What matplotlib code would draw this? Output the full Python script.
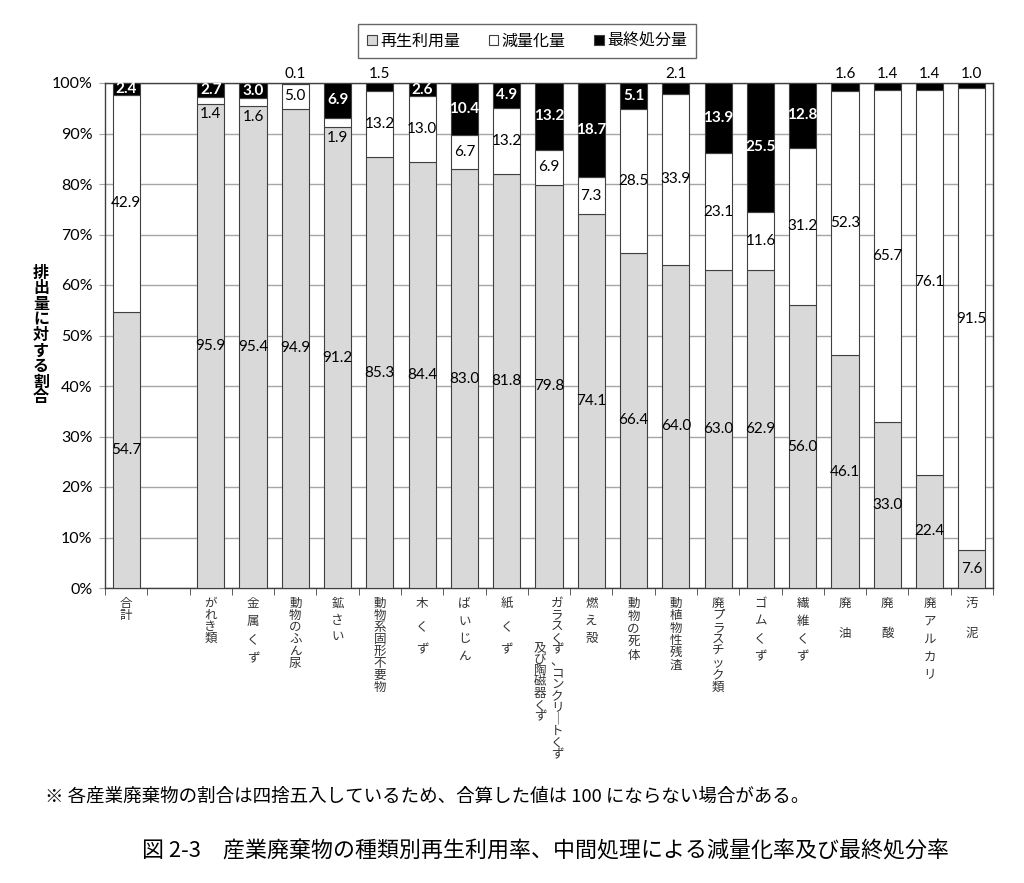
import matplotlib
matplotlib.use("Agg")
import matplotlib.pyplot as plt
from matplotlib.patches import Patch
import numpy as np

plt.rcParams['font.family'] = ['Noto Sans CJK JP', 'DejaVu Sans']

categories = ["合計", "", "がれき類", "金属くず", "動物のふん尿", "鉱さい", "動物系固形不要物",
              "木くず", "ばいじん", "紙くず", "ガラスくず、コンクリートくず及び陶磁器くず", "燃え殻",
              "動物の死体", "動植物性残渣", "廃プラスチック類", "ゴムくず", "繊維くず",
              "廃油", "廃酸", "廃アルカリ", "汚泥"]
recycled = [54.7, None, 95.9, 95.4, 94.9, 91.2, 85.3, 84.4, 83.0, 81.8, 79.8, 74.1,
            66.4, 64.0, 63.0, 62.9, 56.0, 46.1, 33.0, 22.4, 7.6]
reduced = [42.9, None, 1.4, 1.6, 5.0, 1.9, 13.2, 13.0, 6.7, 13.2, 6.9, 7.3,
           28.5, 33.9, 23.1, 11.6, 31.2, 52.3, 65.7, 76.1, 91.5]
final = [2.4, None, 2.7, 3.0, 0.1, 6.9, 1.5, 2.6, 10.4, 4.9, 13.2, 18.7,
         5.1, 2.1, 13.9, 25.5, 12.8, 1.6, 1.4, 1.4, 1.0]
series_names = ["再生利用量", "減量化量", "最終処分量"]
yticks = [0, 10, 20, 30, 40, 50, 60, 70, 80, 90, 100]

# vertical label layout: (columns of characters, char step px)
label_cols = {
    0: ([("合計", 0, 0)], 12.5),
    2: ([("がれき類", 0, 0)], 11.7),
    3: ([("金属くず", 0, 0)], 18.3),
    4: ([("動物のふん尿", 0, 0)], 11.9),
    5: ([("鉱さい", 0, 0)], 16.7),
    6: ([("動物系固形不要物", 0, 0)], 12.0),
    7: ([("木くず", 0, 0)], 23.0),
    8: ([("ばいじん", 0, 0)], 17.6),
    9: ([("紙くず", 0, 0)], 23.0),
    10: ([("ガラスくず、コンクリ｜トくず", 8, 0), ("及び陶磁器くず", -9, 44)], 11.6),
    11: ([("燃え殻", 0, 0)], 17.5),
    12: ([("動物の死体", 0, 0)], 13.0),
    13: ([("動植物性残渣", 0, 0)], 12.3),
    14: ([("廃プラスチック類", 0, 0)], 12.0),
    15: ([("ゴムくず", 0, 0)], 17.8),
    16: ([("繊維くず", 0, 0)], 17.8),
    17: ([("廃油", 0, 0)], 30.0),
    18: ([("廃酸", 0, 0)], 30.0),
    19: ([("廃アルカリ", 0, 0)], 17.9),
    20: ([("汚泥", 0, 0)], 30.0),
}

W, H = 1024, 883
fig = plt.figure(figsize=(W / 100, H / 100), dpi=100)
ax = fig.add_axes([105 / W, 1 - 588 / H, (993 - 105) / W, (588 - 83) / H])

n = len(categories)
x = np.arange(n)
gray = "#d9d9d9"
edge = "#404040"
bw = 0.64
numfont = "Lato"
nfs = 11

for i in range(n):
    if recycled[i] is None:
        continue
    vals = [recycled[i], reduced[i], final[i]]
    tot = sum(vals)
    h = [v / tot * 100 for v in vals]
    bottoms = [0, h[0], h[0] + h[1]]
    cols = [gray, "white", "black"]
    for k in range(3):
        ax.bar(x[i], h[k], bottom=bottoms[k], width=bw, color=cols[k],
               edgecolor=edge, linewidth=0.8, zorder=3)
    # labels
    ax.text(x[i], bottoms[0] + h[0] / 2, f"{vals[0]:.1f}", ha="center", va="center",
            fontsize=nfs, family=numfont, color="black", zorder=5)
    if vals[1] < 2.5:
        ax.text(x[i], bottoms[1] - 2.1, f"{vals[1]:.1f}", ha="center", va="center",
                fontsize=nfs, family=numfont, color="black", zorder=5)
    else:
        ax.text(x[i], bottoms[1] + h[1] / 2, f"{vals[1]:.1f}", ha="center", va="center",
                fontsize=nfs, family=numfont, color="black", zorder=5)
    if vals[2] < 2.35:
        ax.text(x[i], 101.8, f"{vals[2]:.1f}", ha="center", va="center",
                fontsize=nfs, family=numfont, color="black", zorder=5, clip_on=False)
    else:
        ax.text(x[i], bottoms[2] + h[2] / 2, f"{vals[2]:.1f}", ha="center", va="center",
                fontsize=nfs, family=numfont, color="white", fontweight="bold",
                zorder=5, clip_on=False)

ax.set_xlim(-0.5, n - 0.5)
ax.set_ylim(0, 100)
ax.set_yticks(yticks)
ax.set_yticklabels([f"{t}%" for t in yticks], family=numfont, fontsize=11.5)
ax.yaxis.grid(True, color="#a6a6a6", linewidth=1, zorder=0)
ax.set_axisbelow(True)
ax.set_xticks([])
ax.set_xticks(np.arange(-0.5, n, 1.0), minor=True)
ax.tick_params(axis="x", which="minor", length=5, color=edge, labelbottom=False)
ax.tick_params(axis="y", length=4, color="#a6a6a6", pad=5)
for s in ax.spines.values():
    s.set_color(edge)
    s.set_linewidth(1)

# vertical category labels
px2pt = 0.72
trans = ax.get_xaxis_transform()
for i, (cols, step) in label_cols.items():
    for text, dx, dy in cols:
        for k, ch in enumerate(text):
            ax.annotate(ch, xy=(x[i], 0), xycoords=trans,
                        xytext=(dx * px2pt, -(9 + dy + k * step) * px2pt),
                        textcoords="offset points", ha="center", va="top",
                        fontsize=9, color="#333333", annotation_clip=False)

# y-axis label stacked vertically
ylabel = "排出量に対する割合"
for k, ch in enumerate(ylabel):
    fig.text(41 / W, 1 - (273 + k * 15.5) / H, ch, ha="center", va="center",
             fontsize=11.5, fontweight="bold")

# legend
handles = [Patch(facecolor=gray, edgecolor=edge, linewidth=0.8),
           Patch(facecolor="white", edgecolor=edge, linewidth=0.8),
           Patch(facecolor="black", edgecolor=edge, linewidth=0.8)]
leg = fig.legend(handles, series_names, loc="center", bbox_to_anchor=(527 / W, 1 - 41 / H),
                 ncol=3, frameon=True, fancybox=False, edgecolor=edge, fontsize=11.5,
                 handlelength=0.6, handleheight=0.6, handletextpad=0.2, columnspacing=1.8,
                 borderpad=0.55, borderaxespad=0)
leg.get_frame().set_linewidth(1)

fig.text(45 / W, 1 - 797 / H,
         "※ 各産業廃棄物の割合は四捨五入しているため、合算した値は 100 にならない場合がある。",
         ha="left", va="center", fontsize=13.3)
fig.text(545 / W, 1 - 852 / H,
         "図 2-3　産業廃棄物の種類別再生利用率、中間処理による減量化率及び最終処分率",
         ha="center", va="center", fontsize=15.8)

fig.savefig("out.png", dpi=100)
